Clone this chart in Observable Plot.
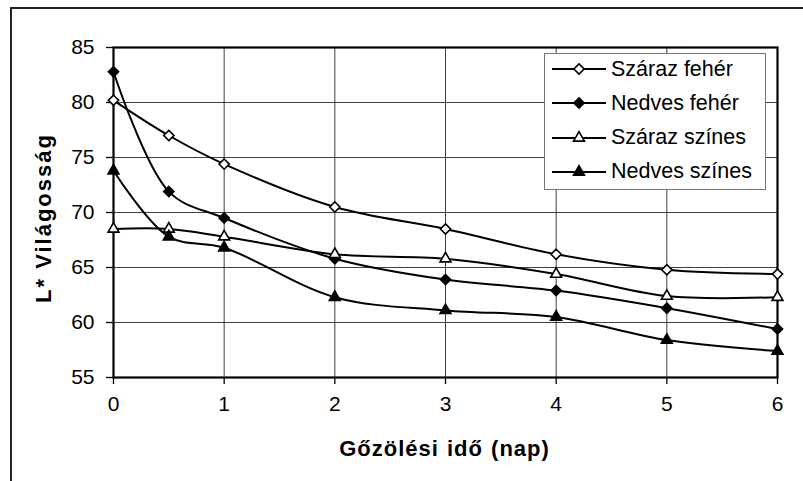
<!DOCTYPE html>
<html>
<head>
<meta charset="utf-8">
<script src="https://cdn.jsdelivr.net/npm/d3@7"></script>
<script src="https://cdn.jsdelivr.net/npm/@observablehq/plot@0.6"></script>
<style>
  html, body { margin: 0; padding: 0; background: #fff; overflow: hidden; }
  body { width: 803px; height: 481px; position: relative; font-family: "Liberation Sans", Arial, sans-serif; }
  #frame { position: absolute; left: 10px; top: 7px; width: 1000px; height: 1000px; border: 2px solid #222; box-sizing: border-box; }
  #chart { position: absolute; left: 0; top: 0; }
  .title { position: absolute; font-weight: bold; font-size: 22px; line-height: 22px; color: #000; white-space: nowrap; }
  #xtitle { left: 444.5px; top: 438px; transform: translateX(-50%); letter-spacing: 1px; word-spacing: 1px; }
  #ytitle { left: 44px; top: 218px; transform: translate(-50%, -50%) rotate(-90deg); letter-spacing: 2px; }
  #legend { position: absolute; left: 544px; top: 53px; width: 222px; height: 137px; box-sizing: border-box; border: 1px solid #777; background: #fff; }
  .row { position: absolute; left: 0; height: 34px; display: flex; align-items: center; }
  .row svg { margin-left: 7px; }
  .row span { font-size: 21.5px; margin-left: 5px; color: #000; }
</style>
</head>
<body>
<div id="frame"></div>
<div id="chart"></div>
<div id="xtitle" class="title"></div>
<div id="ytitle" class="title"></div>
<div id="legend"></div>
<script>
// ---- data ----
const days = [0, 0.5, 1, 2, 3, 4, 5, 6];
const seriesNames = ["Száraz fehér", "Nedves fehér", "Száraz színes", "Nedves színes"];
const szarazFeher  = [80.2, 77.0, 74.4, 70.5, 68.5, 66.2, 64.8, 64.4];
const nedvesFeher  = [82.8, 71.9, 69.5, 65.8, 63.9, 62.9, 61.3, 59.4];
const szarazSzines = [68.5, 68.5, 67.8, 66.2, 65.8, 64.4, 62.4, 62.3];
const nedvesSzines = [73.8, 67.8, 66.8, 62.3, 61.1, 60.5, 58.4, 57.4];
const xTicks = [0, 1, 2, 3, 4, 5, 6];
const yTicks = [55, 60, 65, 70, 75, 80, 85];
const xTitle = "Gőzölési idő (nap)";
const yTitle = "L* Világosság";

const seriesValues = [szarazFeher, nedvesFeher, szarazSzines, nedvesSzines];
const symbols = ["diamond2", "diamond2", "triangle2", "triangle2"];
const fills = ["white", "black", "white", "black"];
const radii = [4.6, 4.6, 5.2, 5.2];

const rows = [];
seriesNames.forEach((name, i) => {
  days.forEach((d, j) => rows.push({series: name, day: d, value: seriesValues[i][j], idx: i}));
});

const marks = [
  Plot.gridX(xTicks, {stroke: "#000", strokeOpacity: 0.75, strokeWidth: 1}),
  Plot.gridY(yTicks, {stroke: "#000", strokeOpacity: 0.75, strokeWidth: 1}),
  Plot.axisX(xTicks, {tickSize: 7, text: null, stroke: "#000", strokeWidth: 1.3, label: null}),
  Plot.axisY(yTicks, {tickSize: 7, text: null, stroke: "#000", strokeWidth: 1.3, label: null}),
  Plot.text(xTicks, {x: d => d, text: d => String(d), frameAnchor: "bottom", dy: 33, fontSize: 21, fill: "#000"}),
  Plot.text(yTicks, {y: d => d, text: d => String(d), frameAnchor: "left", textAnchor: "end", dx: -19, fontSize: 21, fill: "#000"}),
  Plot.frame({stroke: "#000", strokeWidth: 2.2})
];
seriesNames.forEach((name, i) => {
  const data = rows.filter(r => r.idx === i);
  marks.push(Plot.line(data, {x: "day", y: "value", stroke: "#000", strokeWidth: 2, curve: "catmull-rom"}));
});
seriesNames.forEach((name, i) => {
  const data = rows.filter(r => r.idx === i);
  marks.push(Plot.dot(data, {x: "day", y: "value", symbol: () => symbols[i], r: radii[i], fill: fills[i], stroke: "#000", strokeWidth: 1.6}));
});

const chart = Plot.plot({
  width: 803,
  height: 481,
  marginLeft: 113,
  marginRight: 26,
  marginTop: 47,
  marginBottom: 104,
  style: {fontFamily: "'Liberation Sans', Arial, sans-serif", color: "#000", background: "transparent", overflow: "visible"},
  x: {domain: [0, 6], axis: null},
  y: {domain: [55, 85], axis: null},
  symbol: {type: "identity"},
  marks
});
document.getElementById("chart").appendChild(chart);
document.getElementById("xtitle").textContent = xTitle;
document.getElementById("ytitle").textContent = yTitle;

// legend
const legend = document.getElementById("legend");
seriesNames.forEach((name, i) => {
  const row = document.createElement("div");
  row.className = "row";
  row.style.top = (-2 + i * 34.3) + "px";
  const ns = "http://www.w3.org/2000/svg";
  const svg = document.createElementNS(ns, "svg");
  svg.setAttribute("width", 54); svg.setAttribute("height", 20);
  const ln = document.createElementNS(ns, "line");
  ln.setAttribute("x1", 0); ln.setAttribute("x2", 54); ln.setAttribute("y1", 10); ln.setAttribute("y2", 10);
  ln.setAttribute("stroke", "#000"); ln.setAttribute("stroke-width", 2);
  svg.appendChild(ln);
  const p = document.createElementNS(ns, "path");
  const sym = symbols[i] === "diamond2" ? d3.symbolDiamond2 : d3.symbolTriangle2;
  const size = Math.PI * radii[i] * radii[i];
  p.setAttribute("d", d3.symbol(sym, size)());
  p.setAttribute("transform", "translate(27,10)");
  p.setAttribute("fill", fills[i]); p.setAttribute("stroke", "#000"); p.setAttribute("stroke-width", 1.6);
  svg.appendChild(p);
  row.appendChild(svg);
  const t = document.createElement("span");
  t.textContent = name;
  row.appendChild(t);
  legend.appendChild(row);
});
</script>
</body>
</html>
